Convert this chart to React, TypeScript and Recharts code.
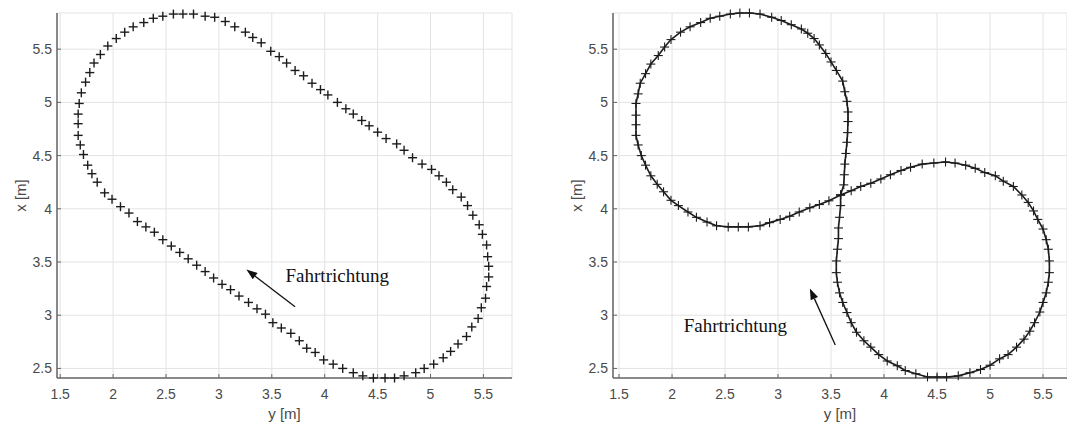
import React from "react";
import {
  CartesianGrid,
  ReferenceDot,
  ReferenceLine,
  Scatter,
  ScatterChart,
  XAxis,
  YAxis,
} from "recharts";

// left panel: oval track, horizontal = y [m], vertical = x [m]
const ovalYm = [
  2.47, 2.57, 2.66, 2.76, 2.87, 2.96, 3.06, 3.15, 3.25, 3.32,
  3.4, 3.49, 3.57, 3.64, 3.72, 3.8, 3.88, 3.96, 4.03, 4.12,
  4.2, 4.27, 4.35, 4.42, 4.5, 4.58, 4.68, 4.75, 4.83, 4.92,
  5.01, 5.08, 5.15, 5.21, 5.29, 5.35, 5.4, 5.46, 5.49, 5.53,
  5.54, 5.55, 5.55, 5.53, 5.52, 5.48, 5.45, 5.39, 5.34, 5.26,
  5.19, 5.12, 5.03, 4.94, 4.86, 4.75, 4.66, 4.57, 4.46, 4.36,
  4.27, 4.17, 4.08, 3.99, 3.91, 3.83, 3.76, 3.68, 3.59, 3.51,
  3.44, 3.36, 3.28, 3.19, 3.11, 3.03, 2.95, 2.87, 2.79, 2.71,
  2.63, 2.55, 2.47, 2.39, 2.31, 2.23, 2.15, 2.07, 1.99, 1.92,
  1.85, 1.8, 1.76, 1.72, 1.69, 1.67, 1.67, 1.67, 1.68, 1.7,
  1.74, 1.78, 1.82, 1.88, 1.95, 2.03, 2.11, 2.19, 2.29, 2.38,
];
const ovalXm = [
  5.81, 5.83, 5.83, 5.83, 5.81, 5.8, 5.76, 5.71, 5.66, 5.61,
  5.56, 5.48, 5.43, 5.37, 5.3, 5.25, 5.18, 5.12, 5.07, 5.0,
  4.94, 4.89, 4.83, 4.78, 4.72, 4.66, 4.61, 4.55, 4.48, 4.42,
  4.37, 4.31, 4.25, 4.18, 4.11, 4.03, 3.94, 3.85, 3.76, 3.66,
  3.55, 3.46, 3.36, 3.27, 3.16, 3.07, 2.97, 2.89, 2.8, 2.73,
  2.66, 2.6, 2.54, 2.5, 2.46, 2.43, 2.41, 2.41, 2.41, 2.43,
  2.46, 2.5, 2.54, 2.58, 2.65, 2.69, 2.76, 2.83, 2.88, 2.93,
  3.01, 3.06, 3.12, 3.18, 3.24, 3.29, 3.35, 3.41, 3.47, 3.53,
  3.59, 3.65, 3.71, 3.78, 3.83, 3.88, 3.96, 4.02, 4.09, 4.15,
  4.25, 4.33, 4.41, 4.51, 4.6, 4.69, 4.8, 4.89, 4.99, 5.09,
  5.19, 5.28, 5.37, 5.45, 5.53, 5.6, 5.66, 5.71, 5.75, 5.79,
];

// right panel: figure eight, starting at the crossing
const eightYm = [
  3.59,
  3.62, 3.625, 3.63, 3.64, 3.65, 3.656, 3.66, 3.66, 3.65, 3.63,
  3.61, 3.55, 3.5, 3.45, 3.39, 3.34, 3.28, 3.22, 3.125, 3.03,
  2.94, 2.83, 2.73, 2.64, 2.55, 2.45, 2.36, 2.27, 2.17, 2.08,
  1.99, 1.93, 1.87, 1.8, 1.75, 1.7, 1.68, 1.66, 1.66, 1.66,
  1.66, 1.68, 1.71, 1.75, 1.8, 1.86, 1.92, 1.99, 2.06, 2.15,
  2.23, 2.33, 2.42, 2.53, 2.625, 2.72, 2.83, 2.92, 3.02, 3.11,
  3.2, 3.3, 3.39, 3.48,
  3.59,
  3.69, 3.78, 3.875, 3.97, 4.06, 4.16, 4.25, 4.36, 4.47, 4.58,
  4.67, 4.77, 4.86, 4.95, 5.05, 5.125, 5.22, 5.3, 5.36, 5.41,
  5.45, 5.5, 5.53, 5.55, 5.56, 5.56, 5.55, 5.53, 5.5, 5.47,
  5.42, 5.375, 5.32, 5.25, 5.17, 5.09, 5.0, 4.91, 4.81, 4.7,
  4.59, 4.5, 4.41, 4.3, 4.2, 4.125, 4.03, 3.95, 3.875, 3.81,
  3.74, 3.69, 3.65, 3.61, 3.58, 3.56, 3.55, 3.55, 3.56, 3.57,
  3.57, 3.58, 3.59,
  3.59,
];
const eightXm = [
  4.13,
  4.225, 4.32, 4.42, 4.52, 4.625, 4.716, 4.82, 4.91, 5.01, 5.1,
  5.2, 5.3, 5.38, 5.46, 5.54, 5.6, 5.65, 5.69, 5.73, 5.77,
  5.8, 5.83, 5.84, 5.84, 5.83, 5.81, 5.79, 5.75, 5.71, 5.66,
  5.59, 5.52, 5.44, 5.36, 5.27, 5.18, 5.08, 4.99, 4.88, 4.79,
  4.69, 4.6, 4.5, 4.41, 4.31, 4.23, 4.16, 4.08, 4.03, 3.97,
  3.92, 3.875, 3.84, 3.83, 3.83, 3.83, 3.84, 3.87, 3.9, 3.93,
  3.97, 4.01, 4.04, 4.075,
  4.13,
  4.17, 4.21, 4.24, 4.28, 4.32, 4.36, 4.39, 4.42, 4.43, 4.44,
  4.43, 4.41, 4.38, 4.34, 4.31, 4.26, 4.21, 4.13, 4.06, 3.98,
  3.9, 3.81, 3.71, 3.62, 3.51, 3.4, 3.31, 3.21, 3.12, 3.03,
  2.93, 2.85, 2.775, 2.7, 2.63, 2.59, 2.53, 2.49, 2.46, 2.43,
  2.42, 2.42, 2.42, 2.45, 2.48, 2.525, 2.57, 2.63, 2.7, 2.76,
  2.84, 2.93, 3.025, 3.12, 3.21, 3.31, 3.4, 3.51, 3.62, 3.72,
  3.82, 3.92, 4.03,
  4.13,
];

const ymTicks = [1.5, 2, 2.5, 3, 3.5, 4, 4.5, 5, 5.5];
const xmTicks = [2.5, 3, 3.5, 4, 4.5, 5, 5.5];

const toPoints = (ym: number[], xm: number[]) =>
  ym.map((v, i) => ({ ym: v, xm: xm[i] }));

const axisColor = "#666";
const textColor = "#4a4a4a";

const plusShape = (half: number, sw: number) => (p: any) => (
  <g>
    <line x1={p.cx - half} y1={p.cy} x2={p.cx + half} y2={p.cy} stroke="#1c1c1c" strokeWidth={sw} />
    <line x1={p.cx} y1={p.cy - half} x2={p.cx} y2={p.cy + half} stroke="#1c1c1c" strokeWidth={sw} />
  </g>
);

const Arrow = (p: any) => {
  const { x1, y1, x2, y2 } = p;
  const ang = Math.atan2(y2 - y1, x2 - x1);
  const len = 11;
  const half = 4;
  const bx = x2 - len * Math.cos(ang);
  const by = y2 - len * Math.sin(ang);
  const nx = -Math.sin(ang) * half;
  const ny = Math.cos(ang) * half;
  return (
    <g>
      <line x1={x1} y1={y1} x2={bx} y2={by} stroke="#111" strokeWidth={1.3} />
      <polygon points={`${x2},${y2} ${bx + nx},${by + ny} ${bx - nx},${by - ny}`} fill="#111" />
    </g>
  );
};

const Caption = (p: any) => (
  <text
    x={p.cx}
    y={p.cy}
    fontFamily="'Liberation Serif', 'Times New Roman', serif"
    fontSize={19}
    fill="#111"
  >
    Fahrtrichtung
  </text>
);

const XLabel = (p: any) => {
  const vb = p.viewBox;
  return (
    <text x={vb.x + vb.width / 2} y={vb.y + 41} textAnchor="middle" fontSize={15} fill={textColor}>
      y [m]
    </text>
  );
};

const YLabel = (p: any) => {
  const vb = p.viewBox;
  const cx = vb.x + 20;
  const cy = vb.y + vb.height / 2;
  return (
    <text
      x={cx}
      y={cy}
      transform={`rotate(-90 ${cx} ${cy})`}
      textAnchor="middle"
      dominantBaseline="central"
      fontSize={15}
      fill={textColor}
    >
      x [m]
    </text>
  );
};

type PanelProps = {
  width: number;
  rightMargin: number;
  ymDomain: [number, number];
  data: { ym: number; xm: number }[];
  joined: boolean;
  textAt: { x: number; y: number };
  arrow: { x: number; y: number }[];
};

function Panel({ width, rightMargin, ymDomain, data, joined, textAt, arrow }: PanelProps) {
  return (
    <ScatterChart
      width={width}
      height={425}
      margin={{ top: 13, right: rightMargin, bottom: 0, left: 0 }}
    >
      <CartesianGrid stroke="#e3e3e3" />
      <XAxis
        type="number"
        dataKey="ym"
        domain={ymDomain}
        ticks={ymTicks}
        interval={0}
        height={47}
        tickSize={-4}
        tickMargin={15}
        axisLine={{ stroke: axisColor, strokeWidth: 1.5 }}
        tickLine={{ stroke: axisColor }}
        tick={{ fill: textColor, fontSize: 14 }}
        label={XLabel}
      />
      <YAxis
        type="number"
        dataKey="xm"
        domain={[2.41, 5.84]}
        ticks={xmTicks}
        interval={0}
        width={57}
        tickSize={-4}
        tickMargin={9}
        axisLine={{ stroke: axisColor, strokeWidth: 1.5 }}
        tickLine={{ stroke: axisColor }}
        tick={{ fill: textColor, fontSize: 14 }}
        label={YLabel}
      />
      <Scatter
        data={data}
        isAnimationActive={false}
        shape={joined ? plusShape(4.5, 1.1) : plusShape(4.5, 1.4)}
        line={joined ? { stroke: "#1c1c1c", strokeWidth: 1.6 } : false}
      />
      <ReferenceLine segment={arrow} shape={Arrow} />
      <ReferenceDot x={textAt.x} y={textAt.y} shape={Caption} />
    </ScatterChart>
  );
}

export default function App() {
  return (
    <div
      style={{
        position: "absolute",
        left: 0,
        top: 0,
        width: 1067,
        height: 425,
        background: "#fff",
        fontFamily: "'Liberation Sans', Arial, sans-serif",
      }}
    >
      <div style={{ position: "absolute", left: 0, top: 0 }}>
        <Panel
          width={530}
          rightMargin={18}
          ymDomain={[1.47, 5.77]}
          data={toPoints(ovalYm, ovalXm)}
          joined={false}
          textAt={{ x: 3.63, y: 3.31 }}
          arrow={[{ x: 3.72, y: 3.08 }, { x: 3.26, y: 3.43 }]}
        />
      </div>
      <div style={{ position: "absolute", left: 556, top: 0 }}>
        <Panel
          width={511}
          rightMargin={0}
          ymDomain={[1.443, 5.726]}
          data={toPoints(eightYm, eightXm)}
          joined={true}
          textAt={{ x: 2.11, y: 2.84 }}
          arrow={[{ x: 3.54, y: 2.72 }, { x: 3.3, y: 3.25 }]}
        />
      </div>
    </div>
  );
}
